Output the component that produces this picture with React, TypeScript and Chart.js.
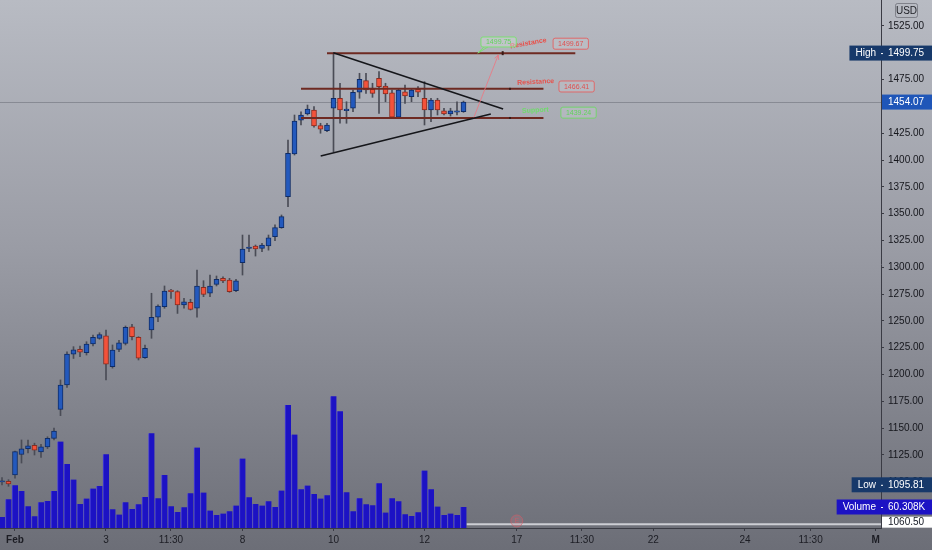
import { useEffect, useRef } from "react";
import { Chart, registerables } from "chart.js";
Chart.register(...registerables);

// Hourly bars: index 0 = Jan 29 14:30, index 2 = Feb 1 09:30 ... index 71 = Feb 12 15:30
const opens = [1100, 1100.5, 1106.4, 1125.5, 1130.8, 1134, 1127.8, 1132.6, 1140.5, 1167.6, 1190.3, 1219, 1223.5, 1220.4, 1228.5, 1233.8, 1236, 1207.3, 1223.5, 1229, 1244.6, 1234.7, 1215.7, 1241.6, 1253.4, 1263.3, 1278.8, 1277.3, 1264.9, 1267.4, 1261.8, 1281.4, 1275.8, 1284.1, 1289.7, 1288.2, 1278.2, 1304.3, 1317.6, 1319.9, 1317.6, 1320, 1328.6, 1337, 1365.8, 1405.7, 1437.3, 1443, 1446.7, 1432.1, 1427.4, 1448.3, 1457.6, 1446, 1448.3, 1463.2, 1474, 1466, 1476.2, 1469, 1462.8, 1439.9, 1463.7, 1459.1, 1466, 1457.6, 1446.7, 1456, 1446, 1443, 1444.6, 1445.1];
const highs = [1104, 1102, 1128.7, 1139, 1139, 1136, 1135, 1142, 1150, 1195, 1221.3, 1226, 1226.6, 1230.6, 1236.9, 1239, 1241.5, 1227.6, 1232, 1245.3, 1246.9, 1235.3, 1227.6, 1275.8, 1264.9, 1282.6, 1279.5, 1278.2, 1271, 1270.2, 1297.5, 1287.5, 1292.8, 1291.9, 1291.2, 1289.7, 1288.8, 1330.1, 1330, 1320.8, 1322.4, 1330.1, 1339.5, 1348.8, 1418.7, 1442, 1445, 1451.3, 1449.8, 1434.3, 1434.3, 1499.75, 1471.6, 1454.4, 1465.3, 1480.9, 1480.9, 1471.6, 1482.4, 1471.6, 1465.3, 1466.9, 1470, 1466.9, 1468.4, 1473.1, 1457.6, 1457.6, 1448.3, 1448.3, 1454.4, 1455];
const lows = [1097, 1095.81, 1103.5, 1117.5, 1127, 1125, 1122.8, 1131, 1139, 1161.7, 1188, 1215, 1216.7, 1218.2, 1226.6, 1232.9, 1194.9, 1206, 1221.3, 1227.6, 1232.2, 1213.6, 1215, 1233.8, 1249.3, 1261.8, 1271, 1257, 1261.8, 1260.2, 1253.4, 1272.6, 1272.6, 1282.6, 1285.6, 1276.7, 1277.3, 1292.8, 1314.6, 1310.5, 1314.6, 1316, 1324.8, 1336.4, 1356.5, 1404.7, 1432.7, 1442, 1430.6, 1425, 1426.5, 1407.8, 1434.3, 1434.3, 1445.1, 1457.6, 1462.2, 1458.5, 1443.6, 1454.4, 1438.9, 1438.9, 1452.9, 1454.4, 1459.1, 1432.7, 1435.8, 1442, 1442, 1441, 1442, 1444.5];
const closes = [1101, 1098, 1128.1, 1130.7, 1133.5, 1129.5, 1132.6, 1140.5, 1147.4, 1190.3, 1219.2, 1223, 1220.8, 1228.5, 1234.7, 1237.2, 1209.6, 1222.9, 1229.7, 1244, 1235.3, 1215.2, 1224.5, 1253.4, 1263.9, 1277.9, 1277.3, 1264.9, 1267.7, 1260.8, 1282.6, 1274.8, 1282.6, 1288.8, 1287.2, 1277.3, 1287.5, 1317.1, 1318.9, 1317.1, 1320.8, 1327.6, 1337, 1347.2, 1406.3, 1436.4, 1442, 1447.6, 1431.8, 1428.7, 1432.7, 1457.6, 1446.7, 1447.6, 1463.2, 1475.3, 1465.3, 1462.2, 1468.4, 1461.6, 1439.9, 1465.3, 1459.7, 1465.3, 1463.2, 1446.7, 1456, 1446.7, 1443, 1446, 1445.8, 1454.07];
const volumesK = [31.6, 82.4, 122.6, 106.3, 62.3, 33.6, 73.8, 77.5, 106.3, 248.1, 183.8, 139, 68.9, 84.4, 113.2, 120.6, 211.7, 53.7, 38.5, 73.8, 54.6, 68.1, 89, 272, 85.3, 152.2, 62.3, 46, 59.5, 99.7, 230.9, 101.7, 50, 37.3, 41.4, 48, 64.3, 199.3, 88.2, 68.9, 64.3, 76.7, 60.3, 107.4, 353.3, 268.2, 111.1, 121.8, 97.6, 84.4, 93.9, 378.2, 335.2, 102.5, 48, 85.3, 68.1, 65.2, 128.4, 44.2, 85.3, 76.7, 39.3, 34.5, 45.1, 164.9, 111.1, 61.5, 37.3, 41.4, 37.3, 60.308];

const xTickPositions = [2, 16, 26, 37, 51, 65, 79.2, 89.2, 100.2, 114.3, 124.4, 134.4];
const xTickLabels = ["Feb", "3", "11:30", "8", "10", "12", "17", "11:30", "22", "24", "11:30", "M"];

// drawings: [startIndex, endIndex, price]
const levelLines = [
  [50, 88.2, 1499.67],
  [46, 83.3, 1466.41],
  [46, 83.3, 1439.24],
];
// trend lines: [i1, p1, i2, p2]
const trendLines = [
  [50.97, 1500.1, 77.1, 1447.6],
  [49.03, 1403.8, 75.2, 1443],
];
const levelTexts = ["Resistance", "Resistance", "Support"];
const levelTextAnchors = [
  [80.97, 1508.9, -10],
  [82.1, 1472.8, -3],
  [82.05, 1446.4, -3],
];
const levelBoxTexts = ["1499.67", "1466.41", "1439.24"];
const levelBoxAnchors = [
  [87.5, 1508.5],
  [88.4, 1468.6],
  [88.7, 1444.2],
];
const calloutText = "1499.75";
const calloutAnchor = [76.4, 1510.1, 73.2, 1499.8];
const arrowLine = [72.6, 1439.9, 76.35, 1498];
const floorLevel = [71.5, 1060.5];
const eventMarker = [79.2, 1063.5];

const lastPrice = 1454.07;
const highPrice = 1499.75;
const lowPrice = 1095.81;
const lastVolumeLabel = "60.308K";

const FONT = "'Liberation Sans', Arial, sans-serif";
const BLUE_BODY = "#2359bd";
const BLUE_EDGE = "#0f2c66";
const RED_BODY = "#f4523a";
const RED_EDGE = "#8a2c20";

function roundRect(ctx: CanvasRenderingContext2D, x: number, y: number, w: number, h: number, r: number) {
  ctx.beginPath();
  ctx.moveTo(x + r, y);
  ctx.lineTo(x + w - r, y);
  ctx.quadraticCurveTo(x + w, y, x + w, y + r);
  ctx.lineTo(x + w, y + h - r);
  ctx.quadraticCurveTo(x + w, y + h, x + w - r, y + h);
  ctx.lineTo(x + r, y + h);
  ctx.quadraticCurveTo(x, y + h, x, y + h - r);
  ctx.lineTo(x, y + r);
  ctx.quadraticCurveTo(x, y, x + r, y);
  ctx.closePath();
}

const drawingsPlugin = {
  id: "drawings",
  beforeDatasetsDraw(chart: any) {
    const { ctx, chartArea } = chart;
    const ys = chart.scales.y;
    ctx.save();
    const y = Math.round(ys.getPixelForValue(lastPrice)) + 0.5;
    ctx.strokeStyle = "rgba(70,72,82,0.35)";
    ctx.lineWidth = 1;
    ctx.beginPath();
    ctx.moveTo(chartArea.left, y);
    ctx.lineTo(chartArea.right, y);
    ctx.stroke();
    ctx.restore();
  },
  afterDatasetsDraw(chart: any) {
    const { ctx, chartArea } = chart;
    const xs = chart.scales.x;
    const ys = chart.scales.y;
    const px = (v: number) => xs.getPixelForValue(v);
    const py = (v: number) => ys.getPixelForValue(v);
    ctx.save();
    ctx.beginPath();
    ctx.rect(chartArea.left, chartArea.top, chartArea.right - chartArea.left, chartArea.bottom - chartArea.top);
    ctx.clip();

    // floor level line
    ctx.strokeStyle = "rgba(215,216,222,0.9)";
    ctx.lineWidth = 2;
    ctx.beginPath();
    ctx.moveTo(px(floorLevel[0]), py(floorLevel[1]));
    ctx.lineTo(chartArea.right, py(floorLevel[1]));
    ctx.stroke();

    // event marker
    ctx.beginPath();
    ctx.arc(px(eventMarker[0]), py(eventMarker[1]), 6, 0, Math.PI * 2);
    ctx.fillStyle = "rgba(200,120,130,0.25)";
    ctx.fill();
    ctx.strokeStyle = "rgba(220,90,100,0.55)";
    ctx.lineWidth = 1;
    ctx.stroke();
    ctx.fillStyle = "rgba(220,90,100,0.7)";
    ctx.font = `7px ${FONT}`;
    ctx.textAlign = "center";
    ctx.textBaseline = "middle";
    ctx.fillText("E", px(eventMarker[0]), py(eventMarker[1]) + 0.5);

    // level lines
    ctx.strokeStyle = "#6e2a22";
    ctx.lineWidth = 2;
    levelLines.forEach(([a, b, p]) => {
      ctx.beginPath();
      ctx.moveTo(px(a), py(p));
      ctx.lineTo(px(b), py(p));
      ctx.stroke();
    });
    // small handles on level lines
    ctx.fillStyle = "#3a1a16";
    ctx.fillRect(px(77.03) - 1, py(levelLines[0][2]) - 2, 2, 4);
    ctx.fillRect(px(78.15) - 1, py(levelLines[1][2]) - 1, 2, 2);
    ctx.fillRect(px(78.15) - 1, py(levelLines[2][2]) - 1, 2, 2);

    // trend lines
    ctx.strokeStyle = "#15161a";
    ctx.lineWidth = 1.6;
    trendLines.forEach(([a, p1, b, p2]) => {
      ctx.beginPath();
      ctx.moveTo(px(a), py(p1));
      ctx.lineTo(px(b), py(p2));
      ctx.stroke();
    });

    // arrow
    const ax1 = px(arrowLine[0]), ay1 = py(arrowLine[1]), ax2 = px(arrowLine[2]), ay2 = py(arrowLine[3]);
    ctx.strokeStyle = "rgba(235,120,130,0.85)";
    ctx.lineWidth = 1;
    ctx.beginPath();
    ctx.moveTo(ax1, ay1);
    ctx.lineTo(ax2, ay2);
    ctx.stroke();
    const ang = Math.atan2(ay2 - ay1, ax2 - ax1);
    ctx.beginPath();
    ctx.moveTo(ax2 - 5 * Math.cos(ang - 0.45), ay2 - 5 * Math.sin(ang - 0.45));
    ctx.lineTo(ax2, ay2);
    ctx.lineTo(ax2 - 5 * Math.cos(ang + 0.45), ay2 - 5 * Math.sin(ang + 0.45));
    ctx.stroke();

    // level texts
    levelTexts.forEach((t, i) => {
      const [a, p, rot] = levelTextAnchors[i];
      ctx.save();
      ctx.translate(px(a), py(p));
      ctx.rotate((rot * Math.PI) / 180);
      ctx.font = `bold 7px ${FONT}`;
      ctx.textAlign = "center";
      ctx.textBaseline = "middle";
      ctx.fillStyle = t === "Support" ? "#6fdc6a" : "#e8504a";
      ctx.fillText(t, 0, 0);
      ctx.restore();
    });

    // level boxes
    levelBoxTexts.forEach((t, i) => {
      const [a, p] = levelBoxAnchors[i];
      const cx = px(a), cy = py(p);
      const green = i === 2;
      ctx.font = `7px ${FONT}`;
      const w = ctx.measureText(t).width + 10;
      const h = 11;
      roundRect(ctx, cx - w / 2, cy - h / 2, w, h, 2);
      ctx.fillStyle = "rgba(200,202,210,0.35)";
      ctx.fill();
      ctx.strokeStyle = green ? "rgba(110,215,100,0.9)" : "rgba(230,90,90,0.85)";
      ctx.lineWidth = 1;
      ctx.stroke();
      ctx.fillStyle = green ? "#5fd45a" : "#e05050";
      ctx.textAlign = "center";
      ctx.textBaseline = "middle";
      ctx.fillText(t, cx, cy + 0.5);
    });

    // callout
    {
      const cx = px(calloutAnchor[0]), cy = py(calloutAnchor[1]);
      const tx = px(calloutAnchor[2]), ty = py(calloutAnchor[3]);
      ctx.font = `7px ${FONT}`;
      const w = ctx.measureText(calloutText).width + 10;
      const h = 10;
      ctx.strokeStyle = "rgba(120,225,110,0.95)";
      ctx.lineWidth = 1;
      ctx.beginPath();
      ctx.moveTo(cx - w / 2 + 3, cy + h / 2);
      ctx.lineTo(tx, ty);
      ctx.lineTo(cx - w / 2 + 7, cy + h / 2);
      ctx.stroke();
      roundRect(ctx, cx - w / 2, cy - h / 2, w, h, 2);
      ctx.fillStyle = "rgba(210,215,215,0.45)";
      ctx.fill();
      ctx.stroke();
      ctx.fillStyle = "#5fd45a";
      ctx.textAlign = "center";
      ctx.textBaseline = "middle";
      ctx.fillText(calloutText, cx, cy + 0.5);
    }
    ctx.restore();
  },
  afterDraw(chart: any) {
    const { ctx, chartArea } = chart;
    const ys = chart.scales.y;
    const yv = chart.scales.yv;
    const right = chart.width;
    const axisX = chartArea.right;
    ctx.save();
    ctx.font = `10px ${FONT}`;
    ctx.textBaseline = "middle";

    const tag = (name: string | null, value: string, cy: number, fill: string, textColor: string, h: number) => {
      ctx.font = `10px ${FONT}`;
      let left = axisX + 1;
      if (name) {
        const tw = ctx.measureText(name).width;
        left = axisX - 5 - tw - 6;
      }
      ctx.fillStyle = fill;
      ctx.fillRect(left, cy - h / 2, right - left, h);
      ctx.fillStyle = textColor;
      ctx.textAlign = "left";
      if (name) {
        ctx.fillText(name, left + 6, cy + 0.5);
        ctx.fillRect(axisX, cy, 2, 1);
      }
      ctx.fillText(value, axisX + 7, cy + 0.5);
    };

    tag("High", highPrice.toFixed(2), ys.getPixelForValue(highPrice), "#17396a", "#ffffff", 15);
    tag(null, lastPrice.toFixed(2), ys.getPixelForValue(lastPrice), "#1f56b8", "#ffffff", 15);
    tag("Low", lowPrice.toFixed(2), ys.getPixelForValue(lowPrice) - 1.5, "#17396a", "#ffffff", 15);
    tag("Volume", lastVolumeLabel, yv.getPixelForValue(volumesK[volumesK.length - 1]), "#1c12c4", "#ffffff", 15);
    tag(null, floorLevel[1].toFixed(2), ys.getPixelForValue(floorLevel[1]) - 2, "#ffffff", "#131722", 11);

    // USD badge
    roundRect(ctx, 895.5, 3.5, 22, 14, 2);
    ctx.strokeStyle = "rgba(90,92,100,0.6)";
    ctx.lineWidth = 1;
    ctx.stroke();
    ctx.fillStyle = "#1d1e24";
    ctx.textAlign = "center";
    ctx.fillText("USD", 906.5, 11);
    ctx.restore();
  },
};

export default function App() {
  const ref = useRef<HTMLCanvasElement>(null);
  useEffect(() => {
    document.body.style.margin = "0";
    const idx = opens.map((_, i) => i);
    const up = idx.map((i) => closes[i] >= opens[i]);
    const chart = new Chart(ref.current as HTMLCanvasElement, {
      type: "bar",
      data: {
        datasets: [
          {
            label: "bodies",
            data: idx.map((i) => ({ x: i, y: [opens[i], closes[i]] })) as any,
            backgroundColor: up.map((u) => (u ? BLUE_BODY : RED_BODY)),
            borderColor: up.map((u) => (u ? BLUE_EDGE : RED_EDGE)),
            borderWidth: 1,
            borderSkipped: false,
            barThickness: 5,
            grouped: false,
            yAxisID: "y",
            order: 0,
          } as any,
          {
            label: "wicks",
            data: idx.map((i) => ({ x: i, y: [lows[i], highs[i]] })) as any,
            backgroundColor: "#4a4c56",
            barThickness: 1,
            grouped: false,
            yAxisID: "y",
            order: 1,
          } as any,
          {
            label: "volume",
            data: idx.map((i) => ({ x: i, y: volumesK[i] })) as any,
            backgroundColor: "#1c12c4",
            borderColor: "#4a42d6",
            borderWidth: { left: 1, right: 0, top: 0, bottom: 0 },
            borderSkipped: "start",
            barThickness: 6,
            grouped: false,
            yAxisID: "yv",
            order: 2,
          } as any,
        ],
      },
      options: {
        animation: false,
        responsive: false,
        devicePixelRatio: 1,
        layout: { padding: 0 },
        plugins: { legend: { display: false }, tooltip: { enabled: false } },
        scales: {
          x: {
            type: "linear",
            position: "bottom",
            offset: false,
            min: -2 / 6.5,
            max: -2 / 6.5 + 881 / 6.5,
            afterBuildTicks: (s: any) => {
              s.ticks = xTickPositions.map((v) => ({ value: v }));
            },
            afterFit: (s: any) => {
              s.height = 22;
              s.paddingLeft = 0;
              s.paddingRight = 0;
            },
            grid: { drawOnChartArea: false, tickLength: 3, color: "#3a3b44", offset: false },
            border: { display: true, color: "#3a3b44", width: 1 },
            ticks: {
              autoSkip: false,
              maxRotation: 0,
              padding: 3,
              color: "#1c1d24",
              font: (c: any) => ({ family: FONT, size: 10, weight: c.index === 0 || c.index === 11 ? "bold" : "normal" }),
              callback: (_v: any, i: number) => xTickLabels[i],
            },
          },
          y: {
            type: "linear",
            position: "right",
            min: 1056.93,
            max: 1549.24,
            afterFit: (s: any) => {
              s.width = 51;
              s.paddingTop = 0;
              s.paddingBottom = 0;
            },
            grid: { drawOnChartArea: false, tickLength: 3, color: "#3a3b44" },
            border: { display: true, color: "#3a3b44", width: 1 },
            ticks: {
              stepSize: 25,
              includeBounds: false,
              padding: 4,
              color: "#15161c",
              font: { family: FONT, size: 10 },
              callback: (v: any) => Number(v).toFixed(2),
            },
          },
          yv: {
            type: "linear",
            display: false,
            min: 0,
            max: 1516,
          },
        },
      } as any,
      plugins: [drawingsPlugin],
    });
    return () => chart.destroy();
  }, []);
  return (
    <div
      style={{
        position: "fixed",
        left: 0,
        top: 0,
        width: 932,
        height: 550,
        background: "linear-gradient(to bottom, #b8bbc3 0%, #9a9ca5 45%, #6c6e77 100%)",
      }}
    >
      <canvas ref={ref} width={932} height={550} style={{ display: "block", width: 932, height: 550 }} />
    </div>
  );
}
